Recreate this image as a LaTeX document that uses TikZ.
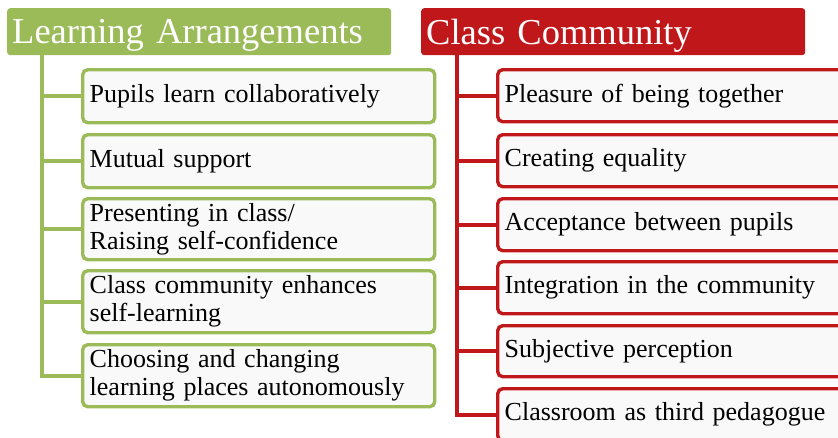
\documentclass[tikz,border=0pt]{standalone}
\usepackage{fontspec}
\setmainfont{Liberation Serif}
\definecolor{grn}{HTML}{9BBB59}
\definecolor{rd}{HTML}{C0171B}
\definecolor{boxfill}{HTML}{F9F9F9}
\begin{document}
\begin{tikzpicture}[x=1pt,y=-1pt,
  title/.style={anchor=north west, rounded corners=3pt, text=white, font=\fontsize{36.5}{38}\selectfont,
    inner xsep=5pt, inner ysep=0pt, minimum height=47pt, text depth=0pt},
  gtitle/.style={title, fill=grn, minimum width=384pt},
  rtitle/.style={title, fill=rd, minimum width=384pt},
  item/.style={anchor=north west, rounded corners=5pt, fill=boxfill, line width=3.4pt,
    font=\fontsize{26}{28}\selectfont, align=left, inner xsep=6pt, inner ysep=0pt},
  gitem/.style={item, draw=grn, minimum width=352pt, text width=338pt},
  ritem/.style={item, draw=rd, minimum width=360pt, text width=346pt},
  gline/.style={draw=grn, line width=4pt},
  rline/.style={draw=rd, line width=4pt}]
\useasboundingbox (0,0) rectangle (838,437);
\clip (0,0) rectangle (838,437);
% left column
\node[gtitle, text width=374pt, align=left] (lt) at (7,8) {Learning Arrangements};
\coordinate (ls) at (42,55);
\node[gitem, minimum height=53pt] (l1) at (81,68) {Pupils learn collaboratively};
\node[gitem, minimum height=53pt] (l2) at (81,133) {Mutual support};
\node[gitem, minimum height=61pt] (l3) at (81,197) {Presenting in class/\\Raising self-confidence};
\node[gitem, minimum height=62pt] (l4) at (81,269) {Class community enhances\\self-learning};
\node[gitem, minimum height=62pt] (l5) at (81,343) {Choosing and changing\\learning places autonomously};
\draw[gline] (ls) |- (l5.west);
\foreach \n in {l1,l2,l3,l4} \draw[gline] (ls |- \n.west) -- (\n.west);
% right column
\node[rtitle, text width=374pt, align=left] (rt) at (421,8) {Class Community};
\coordinate (rs) at (457,55);
\node[ritem, minimum height=52pt] (r1) at (496,68) {Pleasure of being together};
\node[ritem, minimum height=52pt] (r2) at (496,133) {Creating equality};
\node[ritem, minimum height=52pt] (r3) at (496,197) {Acceptance between pupils};
\node[ritem, minimum height=52pt] (r4) at (496,260) {Integration in the community};
\node[ritem, minimum height=51pt] (r5) at (496,324) {Subjective perception};
\node[ritem, minimum height=52pt] (r6) at (496,387) {Classroom as third pedagogue};
\draw[rline] (rs) |- (r6.west);
\foreach \n in {r1,r2,r3,r4,r5} \draw[rline] (rs |- \n.west) -- (\n.west);
\end{tikzpicture}
\end{document}
